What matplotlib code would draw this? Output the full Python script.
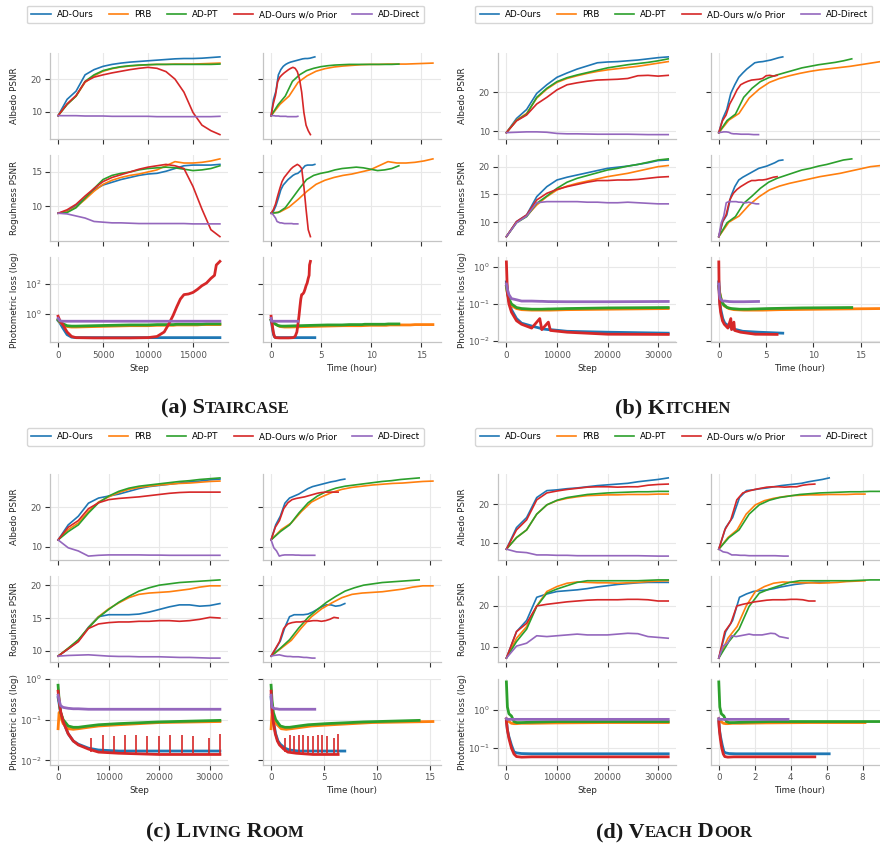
import numpy as np
import matplotlib
matplotlib.use("Agg")
import matplotlib.pyplot as plt
from matplotlib.ticker import MultipleLocator, LogLocator, NullLocator, NullFormatter
from matplotlib.offsetbox import TextArea, HPacker, AnnotationBbox
from matplotlib.lines import Line2D

METHODS = ["AD-Ours", "PRB", "AD-PT", "AD-Ours w/o Prior", "AD-Direct"]
COLORS = ["#1f77b4", "#ff7f0e", "#2ca02c", "#d62728", "#9467bd"]

# ---------------- (a) Staircase ----------------
a_psnr_steps = list(range(0, 18001, 1000))
a_alb_ours = [8.8, 13.8, 16.3, 21.3, 22.9, 23.9, 24.5, 24.9, 25.2, 25.4, 25.6, 25.8, 26.0, 26.2, 26.3, 26.3, 26.4, 26.6, 26.8]
a_alb_prb = [8.8, 12.3, 14.8, 19.0, 21.0, 22.4, 23.2, 23.7, 24.0, 24.2, 24.4, 24.5, 24.5, 24.6, 24.6, 24.6, 24.7, 24.8, 24.9]
a_alb_pt = [8.8, 12.2, 14.8, 19.3, 21.3, 22.6, 23.3, 23.8, 24.1, 24.3, 24.4, 24.5, 24.5, 24.5, 24.5, 24.5, 24.5, 24.5, 24.6]
a_alb_noprior = [8.8, 12.4, 15.0, 19.2, 20.6, 21.3, 21.9, 22.4, 22.9, 23.3, 23.6, 23.3, 22.3, 20.0, 16.0, 9.8, 5.9, 4.2, 3.0]
a_alb_direct = [8.8, 8.8, 8.8, 8.7, 8.7, 8.7, 8.6, 8.6, 8.6, 8.6, 8.6, 8.5, 8.5, 8.5, 8.5, 8.5, 8.5, 8.5, 8.6]
a_rough_ours = [9.0, 9.3, 10.1, 11.2, 12.4, 13.1, 13.5, 13.9, 14.2, 14.5, 14.7, 14.8, 15.1, 15.5, 15.9, 16.0, 16.0, 16.0, 16.1]
a_rough_prb = [9.0, 9.2, 9.9, 11.0, 12.2, 13.2, 13.8, 14.2, 14.5, 14.7, 15.0, 15.3, 15.9, 16.5, 16.3, 16.3, 16.4, 16.6, 16.9]
a_rough_pt = [9.0, 9.1, 9.8, 11.2, 12.6, 13.9, 14.5, 14.8, 15.0, 15.3, 15.5, 15.6, 15.7, 15.6, 15.4, 15.2, 15.3, 15.5, 15.9]
a_rough_noprior = [9.0, 9.5, 10.3, 11.5, 12.6, 13.6, 14.2, 14.6, 15.0, 15.4, 15.7, 15.9, 16.1, 15.9, 15.5, 12.9, 9.6, 6.6, 5.6]
a_rough_direct = [9.0, 8.9, 8.6, 8.3, 7.8, 7.7, 7.6, 7.6, 7.55, 7.5, 7.5, 7.5, 7.5, 7.5, 7.5, 7.45, 7.45, 7.45, 7.45]
a_loss_steps = [0, 200, 500, 1000, 1500, 2000, 4000, 6000, 8000, 10000, 11000, 11800, 12300, 12800, 13200,
                13600, 14000, 14500, 15000, 15500, 16000, 16500, 17000, 17400, 17600, 18000]
a_loss_ours = [0.35, 0.25, 0.12, 0.04, 0.027, 0.025, 0.025, 0.025, 0.025, 0.025, 0.025, 0.025, 0.025,
               0.025, 0.025, 0.025, 0.025, 0.025, 0.025, 0.025, 0.025, 0.025, 0.025, 0.025, 0.025, 0.025]
a_loss_prb = [0.4, 0.28, 0.2, 0.14, 0.13, 0.13, 0.14, 0.15, 0.16, 0.16, 0.17, 0.17, 0.17, 0.17, 0.18,
              0.18, 0.18, 0.18, 0.18, 0.18, 0.19, 0.19, 0.19, 0.19, 0.19, 0.19]
a_loss_pt = [0.4, 0.3, 0.22, 0.16, 0.15, 0.15, 0.16, 0.17, 0.18, 0.18, 0.19, 0.19, 0.19, 0.19, 0.2,
             0.2, 0.2, 0.2, 0.2, 0.2, 0.2, 0.21, 0.21, 0.21, 0.21, 0.21]
a_loss_noprior = [0.7, 0.35, 0.2, 0.06, 0.03, 0.025, 0.024, 0.024, 0.024, 0.025, 0.03, 0.06, 0.2, 0.8, 3,
                  10, 20, 22, 28, 45, 80, 120, 250, 400, 2000, 3500]
a_loss_direct = [0.5, 0.34, 0.32, 0.32, 0.32, 0.32, 0.32, 0.32, 0.32, 0.32, 0.32, 0.32, 0.32, 0.32, 0.32,
                 0.32, 0.32, 0.32, 0.32, 0.32, 0.32, 0.32, 0.32, 0.32, 0.32, 0.32]
a_hours = [4.37, 16.17, 12.77, 3.93, 2.67]

# ---------------- (b) Kitchen ----------------
b_psnr_steps = list(range(0, 32001, 2000))
b_alb_ours = [9.7, 13.3, 15.6, 19.7, 21.9, 23.8, 24.9, 25.9, 26.7, 27.5, 27.7, 27.8, 28.0, 28.2, 28.5, 28.8, 29.0]
b_alb_prb = [9.7, 12.9, 14.6, 18.5, 20.8, 22.5, 23.5, 24.2, 24.8, 25.3, 25.7, 26.0, 26.3, 26.6, 27.0, 27.4, 27.8]
b_alb_pt = [9.7, 12.8, 14.4, 18.7, 21.0, 22.7, 23.7, 24.4, 25.0, 25.6, 26.2, 26.6, 27.0, 27.3, 27.6, 28.0, 28.5]
b_alb_noprior = [9.7, 12.7, 14.2, 17.0, 18.7, 20.6, 21.9, 22.4, 22.8, 23.1, 23.2, 23.3, 23.5, 24.2, 24.3, 24.1, 24.3]
b_alb_direct = [9.7, 9.8, 9.9, 9.9, 9.8, 9.5, 9.4, 9.4, 9.35, 9.3, 9.3, 9.3, 9.3, 9.25, 9.2, 9.2, 9.2]
b_rough_ours = [7.4, 10.1, 11.3, 14.6, 16.4, 17.6, 18.1, 18.5, 18.9, 19.3, 19.7, 19.9, 20.1, 20.4, 20.7, 21.1, 21.2]
b_rough_prb = [7.4, 10.0, 11.1, 13.1, 14.6, 15.8, 16.5, 17.0, 17.4, 17.8, 18.2, 18.5, 18.8, 19.2, 19.6, 20.0, 20.2]
b_rough_pt = [7.4, 9.9, 11.0, 13.4, 14.7, 16.1, 17.2, 17.9, 18.4, 18.9, 19.4, 19.7, 20.1, 20.4, 20.8, 21.2, 21.4]
b_rough_noprior = [7.4, 10.1, 11.3, 14.0, 15.2, 15.9, 16.4, 16.8, 17.2, 17.5, 17.5, 17.6, 17.6, 17.7, 17.9, 18.1, 18.2]
b_rough_direct = [7.4, 9.9, 11.1, 13.5, 13.7, 13.7, 13.7, 13.7, 13.6, 13.6, 13.5, 13.5, 13.6, 13.5, 13.4, 13.3, 13.3]
b_loss_steps = [0, 200, 500, 1000, 2000, 3000, 5000, 6600, 7000, 8300, 8700, 12000, 20000, 32000]
b_loss_ours = [0.4, 0.25, 0.12, 0.07, 0.04, 0.03, 0.025, 0.022, 0.021, 0.02, 0.02, 0.018, 0.017, 0.016]
b_loss_prb = [0.3, 0.2, 0.13, 0.09, 0.075, 0.07, 0.068, 0.068, 0.068, 0.068, 0.068, 0.07, 0.072, 0.075]
b_loss_pt = [0.3, 0.2, 0.14, 0.1, 0.08, 0.075, 0.072, 0.072, 0.072, 0.073, 0.073, 0.075, 0.078, 0.08]
b_loss_noprior = [1.4, 0.2, 0.1, 0.06, 0.035, 0.028, 0.022, 0.04, 0.02, 0.032, 0.019, 0.017, 0.015, 0.0148]
b_loss_direct = [0.35, 0.25, 0.18, 0.14, 0.13, 0.12, 0.12, 0.118, 0.118, 0.116, 0.116, 0.115, 0.115, 0.117]
b_hours = [6.76, 17.1, 14.05, 6.16, 4.2]

# ---------------- (c) Living Room ----------------
c_psnr_steps = list(range(0, 32001, 2000))
c_alb_ours = [11.7, 15.5, 17.7, 21.0, 22.3, 22.8, 23.3, 24.0, 24.7, 25.2, 25.5, 25.8, 26.1, 26.4, 26.6, 26.9, 27.1]
c_alb_prb = [11.7, 14.3, 16.0, 18.9, 21.3, 22.6, 23.7, 24.5, 25.0, 25.3, 25.6, 25.8, 26.0, 26.1, 26.3, 26.5, 26.6]
c_alb_pt = [11.7, 13.8, 15.5, 18.5, 21.1, 22.8, 24.0, 24.8, 25.3, 25.6, 25.9, 26.2, 26.5, 26.7, 27.0, 27.2, 27.4]
c_alb_noprior = [11.7, 14.9, 16.6, 19.6, 21.1, 21.9, 22.2, 22.4, 22.6, 22.9, 23.2, 23.5, 23.7, 23.8, 23.8, 23.8, 23.8]
c_alb_direct = [11.7, 9.7, 8.9, 7.6, 7.8, 7.9, 7.9, 7.9, 7.9, 7.85, 7.85, 7.8, 7.8, 7.8, 7.8, 7.8, 7.8]
c_rough_ours = [9.2, 10.3, 11.5, 13.6, 15.2, 15.5, 15.5, 15.5, 15.6, 15.9, 16.3, 16.7, 17.0, 17.0, 16.8, 16.9, 17.2]
c_rough_prb = [9.2, 10.4, 11.6, 13.5, 15.2, 16.4, 17.3, 18.1, 18.6, 18.8, 18.9, 19.0, 19.2, 19.4, 19.7, 19.9, 19.9]
c_rough_pt = [9.2, 10.4, 11.7, 13.5, 15.1, 16.3, 17.4, 18.3, 19.1, 19.6, 20.0, 20.2, 20.4, 20.5, 20.6, 20.7, 20.8]
c_rough_noprior = [9.2, 10.3, 11.4, 13.4, 14.1, 14.3, 14.4, 14.4, 14.5, 14.5, 14.6, 14.6, 14.5, 14.6, 14.8, 15.1, 15.0]
c_rough_direct = [9.2, 9.3, 9.35, 9.4, 9.3, 9.2, 9.15, 9.15, 9.1, 9.1, 9.1, 9.05, 9.0, 9.0, 8.95, 8.9, 8.9]
c_loss_steps = [0, 200, 500, 1000, 2000, 3000, 4000, 6000, 8000, 12000, 20000, 32000]
c_loss_ours = [0.35, 0.25, 0.15, 0.09, 0.045, 0.03, 0.025, 0.02, 0.018, 0.017, 0.017, 0.017]
c_loss_prb = [0.06, 0.15, 0.12, 0.08, 0.06, 0.058, 0.06, 0.065, 0.07, 0.075, 0.085, 0.09]
c_loss_pt = [0.7, 0.3, 0.15, 0.1, 0.07, 0.065, 0.065, 0.07, 0.075, 0.08, 0.088, 0.096]
c_loss_noprior = [0.5, 0.3, 0.16, 0.09, 0.045, 0.03, 0.024, 0.019, 0.016, 0.015, 0.014, 0.014]
c_loss_direct = [0.4, 0.3, 0.22, 0.2, 0.19, 0.185, 0.185, 0.18, 0.18, 0.18, 0.18, 0.18]
c_spike_steps = [6600, 8900, 11100, 13300, 15400, 17600, 19900, 22200, 24500, 26700, 29800, 32000]
c_spike_base = [0.016, 0.016, 0.015, 0.015, 0.015, 0.015, 0.015, 0.015, 0.015, 0.015, 0.014, 0.014]
c_spike_tops = [0.035, 0.042, 0.04, 0.042, 0.042, 0.04, 0.04, 0.042, 0.042, 0.04, 0.035, 0.045]
c_hours = [6.97, 15.3, 14.0, 6.34, 4.13]

# ---------------- (d) Veach Door ----------------
d_psnr_steps = list(range(0, 32001, 2000))
d_alb_ours = [8.3, 13.9, 16.5, 21.7, 23.5, 23.7, 24.0, 24.2, 24.5, 24.8, 25.0, 25.2, 25.4, 25.8, 26.1, 26.4, 26.8]
d_alb_prb = [8.3, 11.3, 13.3, 17.4, 19.8, 20.9, 21.5, 21.9, 22.2, 22.3, 22.4, 22.4, 22.5, 22.5, 22.5, 22.6, 22.6]
d_alb_pt = [8.3, 11.3, 13.3, 17.4, 19.8, 21.0, 21.7, 22.1, 22.5, 22.7, 22.9, 23.0, 23.1, 23.2, 23.2, 23.3, 23.3]
d_alb_noprior = [8.3, 13.3, 15.9, 21.1, 22.9, 23.4, 23.8, 24.1, 24.4, 24.5, 24.5, 24.4, 24.5, 24.5, 24.9, 25.1, 25.2]
d_alb_direct = [8.3, 7.6, 7.4, 6.8, 6.8, 6.7, 6.7, 6.6, 6.6, 6.6, 6.6, 6.6, 6.6, 6.6, 6.55, 6.5, 6.5]
d_rough_ours = [7.3, 13.7, 16.4, 22.0, 22.8, 23.4, 23.6, 23.8, 24.1, 24.5, 24.8, 25.1, 25.3, 25.5, 25.6, 25.6, 25.6]
d_rough_prb = [7.3, 12.1, 14.9, 19.9, 23.4, 24.6, 25.4, 25.7, 25.6, 25.5, 25.5, 25.4, 25.5, 25.6, 25.8, 25.9, 26.0]
d_rough_pt = [7.3, 11.3, 14.3, 19.8, 23.0, 24.0, 24.8, 25.6, 26.0, 26.0, 26.0, 26.0, 26.0, 26.0, 26.1, 26.2, 26.2]
d_rough_noprior = [7.3, 13.7, 15.7, 19.9, 20.3, 20.6, 20.9, 21.1, 21.3, 21.4, 21.4, 21.4, 21.5, 21.5, 21.4, 21.1, 21.1]
d_rough_direct = [7.3, 10.2, 10.9, 12.7, 12.5, 12.7, 12.9, 13.1, 12.9, 12.9, 12.9, 13.1, 13.3, 13.2, 12.5, 12.3, 12.1]
d_loss_steps = [0, 200, 500, 1000, 1500, 2000, 3000, 5000, 10000, 20000, 32000]
d_loss_ours = [0.55, 0.3, 0.2, 0.12, 0.08, 0.075, 0.072, 0.071, 0.071, 0.071, 0.071]
d_loss_prb = [0.6, 0.55, 0.5, 0.45, 0.44, 0.44, 0.45, 0.45, 0.46, 0.47, 0.47]
d_loss_pt = [5.5, 1.2, 0.8, 0.7, 0.5, 0.47, 0.47, 0.48, 0.5, 0.5, 0.5]
d_loss_noprior = [0.5, 0.3, 0.18, 0.1, 0.07, 0.06, 0.058, 0.059, 0.059, 0.059, 0.059]
d_loss_direct = [0.6, 0.57, 0.57, 0.57, 0.57, 0.57, 0.57, 0.57, 0.57, 0.57, 0.57]
d_hours = [6.14, 8.13, 9.0, 5.34, 3.85]

# ---------------- layout / style ----------------
W, H = 880, 844
FS = 6.3
fig = plt.figure(figsize=(W / 100, H / 100), dpi=100)
plt.rcParams["font.family"] = ["DejaVu Sans"]


def ax_at(x0, top, w, h):
    return fig.add_axes([x0 / W, 1 - (top + h) / H, w / W, h / H])


def style(ax):
    for s in ["top", "right"]:
        ax.spines[s].set_visible(False)
    for s in ["left", "bottom"]:
        ax.spines[s].set_color("#c4c4c4")
        ax.spines[s].set_linewidth(0.9)
    ax.grid(True, color="#e8e8e8", lw=0.8)
    ax.set_axisbelow(True)
    ax.tick_params(length=3.5, width=0.8, color="#333333", labelcolor="#555555",
                   labelsize=FS, pad=2.5)


panels = [
    dict(lx=50, rx=263, tops=[53, 155, 257], h=85.5, steps=a_psnr_steps,
         alb=[a_alb_ours, a_alb_prb, a_alb_pt, a_alb_noprior, a_alb_direct],
         rough=[a_rough_ours, a_rough_prb, a_rough_pt, a_rough_noprior, a_rough_direct],
         lsteps=a_loss_steps,
         loss=[a_loss_ours, a_loss_prb, a_loss_pt, a_loss_noprior, a_loss_direct],
         hours=a_hours, xstep=5000, tstep=5, lylim=(10 ** -1.93, 10 ** 3.84), lbase=100,
         spikes=None, leg=(225.5, 14.5), cap=(225, 408),
         caption=[("(a) S", 1), ("TAIRCASE", 0)]),
    dict(lx=498.3, rx=710.7, tops=[53, 155, 257], h=85.5, steps=b_psnr_steps,
         alb=[b_alb_ours, b_alb_prb, b_alb_pt, b_alb_noprior, b_alb_direct],
         rough=[b_rough_ours, b_rough_prb, b_rough_pt, b_rough_noprior, b_rough_direct],
         lsteps=b_loss_steps,
         loss=[b_loss_ours, b_loss_prb, b_loss_pt, b_loss_noprior, b_loss_direct],
         hours=b_hours, xstep=10000, tstep=5, lylim=(10 ** -2.05, 10 ** 0.28), lbase=10,
         spikes=None, leg=(673.8, 14.5), cap=(673, 408),
         caption=[("(b) K", 1), ("ITCHEN", 0)]),
    dict(lx=50, rx=263, tops=[474, 576, 678.5], h=86, steps=c_psnr_steps,
         alb=[c_alb_ours, c_alb_prb, c_alb_pt, c_alb_noprior, c_alb_direct],
         rough=[c_rough_ours, c_rough_prb, c_rough_pt, c_rough_noprior, c_rough_direct],
         lsteps=c_loss_steps,
         loss=[c_loss_ours, c_loss_prb, c_loss_pt, c_loss_noprior, c_loss_direct],
         hours=c_hours, xstep=10000, tstep=5, lylim=(10 ** -2.1, 10 ** 0.01), lbase=10,
         spikes=(c_spike_steps, c_spike_base, c_spike_tops), leg=(225.5, 436.7), cap=(225, 832),
         caption=[("(c) L", 1), ("IVING", 0), (" R", 1), ("OOM", 0)]),
    dict(lx=498.3, rx=710.7, tops=[474, 576, 678.5], h=86, steps=d_psnr_steps,
         alb=[d_alb_ours, d_alb_prb, d_alb_pt, d_alb_noprior, d_alb_direct],
         rough=[d_rough_ours, d_rough_prb, d_rough_pt, d_rough_noprior, d_rough_direct],
         lsteps=d_loss_steps,
         loss=[d_loss_ours, d_loss_prb, d_loss_pt, d_loss_noprior, d_loss_direct],
         hours=d_hours, xstep=10000, tstep=2, lylim=(10 ** -1.43, 10 ** 0.83), lbase=10,
         spikes=None, leg=(673.8, 436.7), cap=(674, 832),
         caption=[("(d) V", 1), ("EACH", 0), (" D", 1), ("OOR", 0)]),
]

ylabels = ["Albedo PSNR", "Roguhness PSNR", "Photometric loss (log)"]
AXW = 178

for p in panels:
    smax = p["steps"][-1]
    for r in range(3):
        axl = ax_at(p["lx"], p["tops"][r], AXW, p["h"])
        axr = ax_at(p["rx"], p["tops"][r], AXW, p["h"])
        axr.sharey(axl)
        for ax in (axl, axr):
            style(ax)
        if r < 2:
            series = p["alb"] if r == 0 else p["rough"]
            for k in range(5):
                st = np.asarray(p["steps"], float)
                axl.plot(st, series[k], color=COLORS[k], lw=1.2)
                axr.plot(st / smax * p["hours"][k], series[k], color=COLORS[k], lw=1.2)
        else:
            st = np.asarray(p["lsteps"], float)
            for k in range(5):
                axl.plot(st, p["loss"][k], color=COLORS[k], lw=2.0)
                axr.plot(st / smax * p["hours"][k], p["loss"][k], color=COLORS[k], lw=2.0)
            if p["spikes"] is not None:
                ss, sb, stp = p["spikes"]
                ss = np.asarray(ss, float)
                axl.vlines(ss, sb, stp, color=COLORS[3], lw=1.2)
                axr.vlines(ss / smax * p["hours"][3], sb, stp, color=COLORS[3], lw=1.2)
            axl.set_yscale("log")
            axl.set_ylim(*p["lylim"])
            axl.yaxis.set_major_locator(LogLocator(base=p["lbase"]))
            axl.yaxis.set_minor_locator(NullLocator())
            axl.yaxis.set_minor_formatter(NullFormatter())
        axl.xaxis.set_major_locator(MultipleLocator(p["xstep"]))
        axr.xaxis.set_major_locator(MultipleLocator(p["tstep"]))
        axr.tick_params(labelleft=False)
        if r < 2:
            axl.tick_params(labelbottom=False)
            axr.tick_params(labelbottom=False)
        else:
            axl.set_xlabel("Step", fontsize=FS, color="#262626", labelpad=3)
            axr.set_xlabel("Time (hour)", fontsize=FS, color="#262626", labelpad=3)
        axl.set_ylabel(ylabels[r], fontsize=FS, color="#262626")
        axl.yaxis.set_label_coords(-0.175, 0.5)

    handles = [Line2D([], [], color=c, lw=1.2) for c in COLORS]
    fig.legend(handles, METHODS, loc="center",
               bbox_to_anchor=(p["leg"][0] / W, 1 - p["leg"][1] / H),
               ncol=5, fontsize=FS, frameon=True, edgecolor="#cccccc", fancybox=True,
               handlelength=2.2, columnspacing=1.75, handletextpad=0.69, borderpad=0.5)

    boxes = [TextArea(t, textprops=dict(family="Liberation Serif", weight="bold",
                                        size=16 if big else 12, color="#1a1a1a"))
             for t, big in p["caption"]]
    pack = HPacker(children=boxes, align="baseline", pad=0, sep=0)
    ab = AnnotationBbox(pack, (p["cap"][0] / W, 1 - p["cap"][1] / H), xycoords="figure fraction",
                        frameon=False, box_alignment=(0.5, 0.5))
    fig.add_artist(ab)

fig.savefig("out.png", dpi=100)
